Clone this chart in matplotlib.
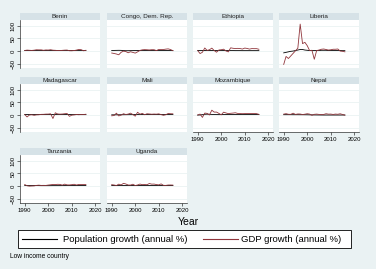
import numpy as np
import matplotlib
matplotlib.use("Agg")
import matplotlib.pyplot as plt
from matplotlib.lines import Line2D
from matplotlib.patches import Rectangle

plt.rcParams['font.family'] = ['Liberation Sans', 'DejaVu Sans']

years = list(range(1990, 2017))

countries = ["Benin", "Congo, Dem. Rep.", "Ethiopia", "Liberia",
             "Madagascar", "Mali", "Mozambique", "Nepal",
             "Tanzania", "Uganda"]

pop_benin = [3.4, 3.4, 3.4, 3.3, 3.3, 3.2, 3.2, 3.2, 3.2, 3.2, 3.2, 3.2, 3.2, 3.2, 3.2, 3.2, 3.2, 3.2, 3.1, 3.0, 2.9, 2.8, 2.8, 2.8, 2.8, 2.8, 2.8]
gdp_benin = [3.2, 4.7, 4.0, 3.5, 4.4, 6.0, 5.6, 5.7, 4.0, 5.3, 4.9, 6.2, 4.4, 3.9, 3.1, 2.9, 3.8, 4.6, 4.9, 2.3, 2.1, 3.0, 4.8, 7.2, 6.4, 2.1, 4.0]

pop_congo = [3.5, 3.5, 3.7, 3.9, 3.7, 2.9, 2.3, 2.4, 2.6, 2.8, 3.0, 3.1, 3.2, 3.2, 3.2, 3.3, 3.3, 3.3, 3.3, 3.3, 3.3, 3.3, 3.3, 3.3, 3.3, 3.3, 3.3]
gdp_congo = [-6.6, -8.4, -10.5, -13.5, -3.9, 0.7, -1.0, -5.6, -1.7, -4.3, -6.9, -2.1, 3.5, 5.8, 6.6, 6.1, 5.3, 6.3, 6.2, 2.9, 7.1, 6.9, 7.1, 8.5, 9.5, 6.9, 2.4]

pop_ethiopia = [3.5, 3.4, 3.3, 3.2, 3.1, 3.1, 3.0, 3.0, 2.9, 2.9, 2.9, 2.9, 2.9, 2.8, 2.8, 2.8, 2.7, 2.7, 2.7, 2.6, 2.6, 2.6, 2.6, 2.6, 2.6, 2.6, 2.6]
gdp_ethiopia = [2.7, -8.7, -3.7, 13.0, 3.5, 6.1, 12.4, 3.1, -3.5, 5.2, 6.1, 8.3, 1.5, -2.2, 13.6, 11.8, 10.8, 11.5, 10.8, 8.8, 12.6, 11.2, 8.6, 10.6, 10.3, 10.4, 8.0]

pop_liberia = [-6.0, -4.0, -2.0, 0.0, 1.0, 3.0, 5.0, 7.0, 7.0, 5.0, 4.0, 3.0, 3.0, 3.0, 3.0, 3.0, 4.0, 4.0, 4.0, 3.0, 3.0, 3.0, 3.0, 3.0, 3.0, 2.5, 2.5]
gdp_liberia = [-51.0, -20.0, -28.0, -18.0, -8.0, 2.0, 12.0, 106.0, 30.0, 35.0, 22.0, 3.0, 4.0, -31.0, 3.0, 5.0, 8.0, 9.0, 7.0, 5.0, 6.0, 8.0, 8.0, 9.0, 1.0, 0.0, -2.0]

pop_madagascar = [3.1, 3.1, 3.1, 3.1, 3.1, 3.0, 3.0, 3.0, 3.0, 3.0, 3.0, 3.0, 3.0, 3.0, 3.0, 3.0, 2.9, 2.9, 2.9, 2.9, 2.8, 2.8, 2.8, 2.8, 2.7, 2.7, 2.7]
gdp_madagascar = [3.1, -6.3, 1.2, 2.1, 0.0, 1.7, 2.1, 3.7, 3.9, 4.7, 4.8, 6.0, -12.4, 9.8, 5.3, 4.6, 5.0, 6.2, 7.2, -4.0, 0.6, 1.6, 3.0, 2.3, 3.3, 3.1, 4.2]

pop_mali = [1.8, 1.9, 2.0, 2.1, 2.2, 2.3, 2.4, 2.5, 2.6, 2.7, 2.8, 2.9, 3.0, 3.1, 3.1, 3.2, 3.2, 3.2, 3.2, 3.1, 3.1, 3.0, 3.0, 3.0, 3.0, 3.0, 3.0]
gdp_mali = [-1.9, -0.8, 8.4, -2.4, 0.9, 6.2, 3.2, 4.8, 8.4, 3.0, -3.3, 11.9, 4.3, 7.6, 2.3, 6.1, 5.3, 4.3, 5.0, 4.5, 5.8, 2.7, 0.0, 2.3, 7.1, 6.2, 5.8]

pop_mozambique = [1.0, 1.5, 2.5, 4.0, 4.5, 4.0, 3.5, 3.0, 2.8, 2.7, 2.8, 2.9, 3.0, 3.0, 3.0, 3.0, 3.0, 3.0, 2.9, 2.9, 2.9, 2.9, 2.9, 2.9, 2.9, 2.9, 2.9]
gdp_mozambique = [1.0, 4.9, -8.1, 8.7, 7.5, 1.4, 20.0, 12.6, 12.6, 7.5, 1.9, 12.3, 9.2, 6.5, 7.9, 8.7, 9.9, 7.3, 6.8, 6.4, 6.7, 7.1, 7.2, 7.0, 7.4, 6.6, 3.8]

pop_nepal = [2.5, 2.5, 2.5, 2.5, 2.4, 2.4, 2.4, 2.3, 2.3, 2.2, 2.1, 1.9, 1.7, 1.5, 1.4, 1.3, 1.2, 1.1, 1.1, 1.1, 1.1, 1.1, 1.1, 1.1, 1.1, 1.2, 1.2]
gdp_nepal = [4.6, 6.4, 4.1, 3.8, 8.2, 3.5, 5.3, 5.0, 3.0, 4.4, 6.2, 4.8, 0.1, 3.9, 4.7, 3.5, 3.4, 3.4, 6.1, 4.5, 4.8, 3.4, 4.8, 4.1, 6.0, 3.3, 0.6]

pop_tanzania = [3.1, 3.1, 3.2, 3.2, 3.1, 2.9, 2.8, 2.6, 2.6, 2.6, 2.6, 2.6, 2.7, 2.7, 2.7, 2.7, 2.8, 2.8, 2.9, 2.9, 3.0, 3.0, 3.1, 3.1, 3.1, 3.1, 3.1]
gdp_tanzania = [7.0, 2.1, 0.6, 1.2, 1.6, 3.6, 4.5, 3.5, 3.7, 3.5, 4.9, 6.0, 7.2, 6.9, 7.8, 7.4, 4.7, 8.5, 5.6, 5.4, 6.4, 7.9, 5.1, 7.3, 7.0, 7.0, 7.0]

pop_uganda = [3.4, 3.3, 3.2, 3.2, 3.2, 3.2, 3.2, 3.2, 3.2, 3.2, 3.2, 3.2, 3.3, 3.3, 3.3, 3.4, 3.4, 3.4, 3.4, 3.3, 3.3, 3.3, 3.3, 3.3, 3.3, 3.3, 3.3]
gdp_uganda = [6.5, 5.2, 3.1, 8.4, 5.4, 11.5, 9.1, 5.1, 4.9, 8.1, 3.1, 5.2, 8.7, 6.5, 6.8, 6.3, 10.8, 8.4, 8.7, 6.8, 5.6, 9.4, 3.8, 3.6, 5.1, 5.2, 4.8]

pop_series = [pop_benin, pop_congo, pop_ethiopia, pop_liberia, pop_madagascar,
              pop_mali, pop_mozambique, pop_nepal, pop_tanzania, pop_uganda]
gdp_series = [gdp_benin, gdp_congo, gdp_ethiopia, gdp_liberia, gdp_madagascar,
              gdp_mali, gdp_mozambique, gdp_nepal, gdp_tanzania, gdp_uganda]

series_labels = ["Population growth (annual %)", "GDP growth (annual %)"]
yticks = [-50, 0, 50, 100]
xticks = [1990, 2000, 2010, 2020]

bg = '#EAF2F3'
strip_col = '#D6E2E7'
gdp_col = '#90353B'

W, H = 376, 269
fig = plt.figure(figsize=(W / 100, H / 100), dpi=100, facecolor=bg)

col_x = [20, 107, 193, 279]
col_w = 80
row_strip = [13, 77, 148]
strip_h = 7
plot_h = 48


def fig_rect(x, y, w, h):
    return [x / W, 1 - (y + h) / H, w / W, h / H]


for i, name in enumerate(countries):
    r, c = divmod(i, 4)
    x0 = col_x[c]
    ys = row_strip[r]

    sax = fig.add_axes(fig_rect(x0, ys, col_w, strip_h))
    sax.set_facecolor(strip_col)
    sax.set_xticks([])
    sax.set_yticks([])
    for s in sax.spines.values():
        s.set_visible(False)
    sax.text(0.5, 0.45, name, ha='center', va='center', fontsize=4.6,
             color='#222222', transform=sax.transAxes)

    ax = fig.add_axes(fig_rect(x0, ys + strip_h, col_w, plot_h))
    ax.set_facecolor('white')
    ax.plot(years, pop_series[i], color='black', lw=0.6)
    ax.plot(years, gdp_series[i], color=gdp_col, lw=0.6)
    ax.set_xlim(1988, 2022)
    ax.set_ylim(-65, 122)
    for yv in yticks:
        ax.axhline(yv, color=bg, lw=0.6, zorder=0)
    for s in ax.spines.values():
        s.set_visible(False)

    ax.set_yticks(yticks)
    ax.set_xticks(xticks)
    show_y = c == 0
    show_x = (r == 2) or (r == 1 and c >= 2)
    ax.tick_params(axis='y', left=show_y, labelleft=show_y, length=2,
                   width=0.5, pad=1, labelsize=4.3, color='#333333')
    ax.tick_params(axis='x', bottom=show_x, labelbottom=show_x, length=2,
                   width=0.5, pad=1.5, labelsize=4.3, color='#333333')
    if show_y:
        ax.spines['left'].set_visible(True)
        ax.spines['left'].set_linewidth(0.5)
        ax.spines['left'].set_color('#333333')
        for lab in ax.get_yticklabels():
            lab.set_rotation(90)
            lab.set_va('center')
    if show_x:
        ax.spines['bottom'].set_visible(True)
        ax.spines['bottom'].set_linewidth(0.5)
        ax.spines['bottom'].set_color('#333333')

fig.text(0.5, 1 - 222 / H, "Year", ha='center', va='center', fontsize=7.5)

# legend box drawn by hand to match the Stata layout
box = fig_rect(18, 230, 333, 18)
fig.patches.append(Rectangle((box[0], box[1]), box[2], box[3],
                             transform=fig.transFigure, facecolor='white',
                             edgecolor='black', lw=0.6))
leg_y = 1 - 239 / H
handle_x = [(22, 57), (203, 238)]
text_x = [63, 241]
colors = ['black', gdp_col]
for (hx0, hx1), tx, col, lab in zip(handle_x, text_x, colors, series_labels):
    fig.lines.append(Line2D([hx0 / W, hx1 / W], [leg_y, leg_y],
                            transform=fig.transFigure, color=col, lw=0.8))
    fig.text(tx / W, leg_y, lab, ha='left', va='center', fontsize=6.8)

fig.text(10 / W, 1 - 257 / H, "Low income country", ha='left', va='center',
         fontsize=4.8)

fig.savefig("out.png", dpi=100, facecolor=bg)
